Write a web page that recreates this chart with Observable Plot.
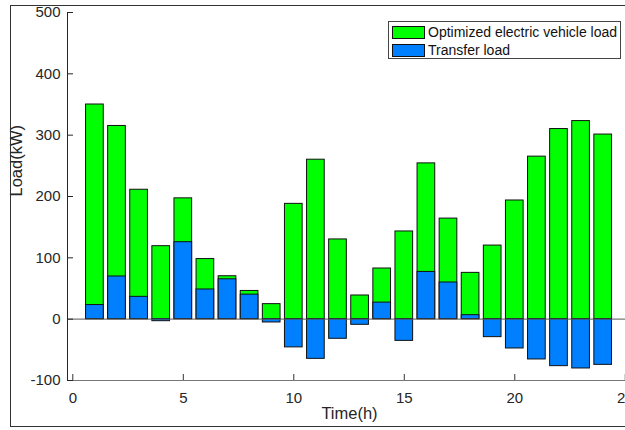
<!DOCTYPE html>
<html>
<head>
<meta charset="utf-8">
<script src="https://cdn.jsdelivr.net/npm/d3@7"></script>
<script src="https://cdn.jsdelivr.net/npm/@observablehq/plot@0.6"></script>
<style>
  body { margin: 0; background: #fff; font-family: Arial, "Liberation Sans", sans-serif; }
  #wrap { position: relative; width: 625px; height: 430px; overflow: hidden; }
  #frame { position: absolute; left: 10px; top: 5px; width: 700px; height: 422px; border: 1px solid #333; box-sizing: border-box; pointer-events: none; }
  #legend { position: absolute; left: 388px; top: 21px; width: 233px; height: 38px; border: 1px solid #444; background: #fff; box-sizing: border-box; font-size: 14px; color: #111; }
  .item { position: absolute; left: 3px; height: 14px; display: flex; align-items: center; }
  .sw { width: 33px; height: 13px; border: 1px solid #111; box-sizing: border-box; margin-right: 3px; }
</style>
</head>
<body>
<div id="wrap">
  <div id="chart"></div>
  <div id="frame"></div>
  <div id="legend"></div>
</div>
<script>
const hours = [1,2,3,4,5,6,7,8,9,10,11,12,13,14,15,16,17,18,19,20,21,22,23,24];
const evLoad = [350, 315, 211, 119, 197, 98, 70, 46, 24.5, 188, 260, 130, 38.6, 82.6, 143, 254, 164, 75.5, 120, 193.5, 265, 310, 323, 301];
const transferLoad = [23, 69.6, 36.4, -3.3, 125.5, 48.4, 65, 40, -5.4, -46, -64.7, -32, -9.2, 27, -35.4, 77, 59.8, 6.5, -29.3, -47.8, -65.7, -76.6, -80.4, -74.5];
const seriesNames = ["Optimized electric vehicle load", "Transfer load"];
const seriesColors = ["#00ff00", "#0080ff"];
const xTicks = [0, 5, 10, 15, 20, 25];
const yTicks = [-100, 0, 100, 200, 300, 400, 500];
const xLabel = "Time(h)";
const yLabel = "Load(kW)";

const barHalf = 0.4;
const xMin = -0.24, xMax = 25.01;
const yMin = -100, yMax = 500;

const rows = hours.map((h, i) => ({h, ev: evLoad[i], tr: transferLoad[i]}));

const chart = Plot.plot({
  width: 625,
  height: 430,
  marginLeft: 67,
  marginRight: 0,
  marginTop: 12,
  marginBottom: 50,
  x: {domain: [xMin, xMax], axis: null},
  y: {domain: [yMin, yMax], axis: null},
  style: {fontFamily: "Arial, 'Liberation Sans', sans-serif", background: "transparent"},
  marks: [
    Plot.rectY(rows, {x1: d => d.h - barHalf, x2: d => d.h + barHalf, y1: 0, y2: "ev", fill: seriesColors[0], stroke: "#111", strokeWidth: 1}),
    Plot.rectY(rows, {x1: d => d.h - barHalf, x2: d => d.h + barHalf, y1: 0, y2: "tr", fill: seriesColors[1], stroke: "#111", strokeWidth: 1}),
    Plot.ruleY([0], {x1: xMin, x2: xMax, stroke: "#555", strokeWidth: 1.2, strokeOpacity: 0.8}),
    // x axis
    Plot.ruleY([yMin], {x1: xMin, x2: xMax, stroke: "#777", strokeWidth: 1}),
    Plot.ruleX(xTicks, {x: d => d, y1: yMin, y2: yMin, insetTop: -6, stroke: "#333", strokeWidth: 1}),
    Plot.text(xTicks, {x: d => d, frameAnchor: "bottom", lineAnchor: "top", dy: 12, text: d => String(d), fontSize: 15, fill: "#262626"}),
    // y axis
    Plot.ruleX([xMin], {y1: yMin, y2: yMax, stroke: "#262626", strokeWidth: 1}),
    Plot.ruleY(yTicks, {y: d => d, x1: xMin, x2: xMin, insetRight: -6, stroke: "#262626", strokeWidth: 1}),
    Plot.text(yTicks, {y: d => d, frameAnchor: "left", textAnchor: "end", dx: -7, text: d => String(d), fontSize: 15, fill: "#262626"}),
    // axis titles
    Plot.text([yLabel], {frameAnchor: "left", rotate: -90, dx: -51, text: d => d, fontSize: 16.5, fill: "#262626"}),
    Plot.text([xLabel], {frameAnchor: "bottom", dx: 3, dy: 38, text: d => d, fontSize: 16.5, fill: "#262626"})
  ]
});
document.getElementById("chart").appendChild(chart);

const legend = document.getElementById("legend");
seriesNames.forEach((name, i) => {
  const it = document.createElement("div");
  it.className = "item";
  it.style.top = (3 + i * 18) + "px";
  const sw = document.createElement("div");
  sw.className = "sw";
  sw.style.background = seriesColors[i];
  const t = document.createElement("span");
  t.textContent = name;
  it.appendChild(sw);
  it.appendChild(t);
  legend.appendChild(it);
});
</script>
</body>
</html>
